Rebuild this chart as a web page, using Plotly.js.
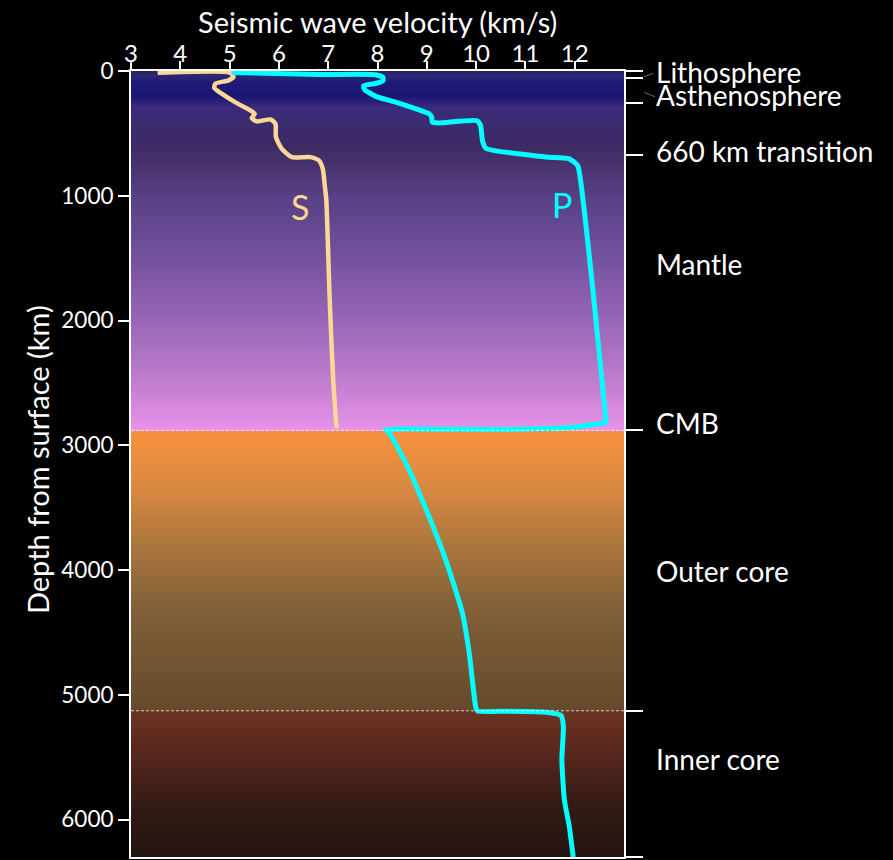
<!DOCTYPE html>
<html>
<head>
<meta charset="utf-8">
<script src="https://cdn.plot.ly/plotly-3.0.1.min.js"></script>
<style>
  html, body { margin: 0; padding: 0; background: #000; }
  #chart { width: 893px; height: 860px; }
</style>
</head>
<body>
<div id="chart"></div>
<script>
// ---------------- data ----------------
const xTicks = [3, 4, 5, 6, 7, 8, 9, 10, 11, 12];
const yTicks = [0, 1000, 2000, 3000, 4000, 5000, 6000];

// S-wave velocity profile (km/s) vs depth (km)
const sDepth = [14, 14, 48, 75, 102, 137, 182, 249, 316, 343, 377, 404, 388, 423, 530, 624, 690, 690, 717, 784, 918, 1025, 1830, 2470, 2865];
const sVel   = [3.54, 5.01, 5.08, 4.98, 4.71, 4.69, 4.84, 5.11, 5.42, 5.51, 5.45, 5.55, 5.83, 5.93, 5.94, 6.06, 6.26, 6.64, 6.81, 6.89, 6.93, 6.96, 7.03, 7.10, 7.17];

// P-wave velocity profile (km/s) vs depth (km)
const pDepth = [12, 28, 30, 50, 78, 100, 118, 150, 205, 250, 316, 340, 370, 410, 416, 398, 437, 560, 620, 640, 690, 704, 758, 1105, 1721, 2389, 2790, 2817, 2835, 2860, 2874, 2876, 2897, 3138, 3567, 3914, 4342, 4663, 5092, 5130, 5132, 5140, 5165, 5252, 5520, 5841, 6055, 6300];
const pVel   = [5.04, 6.81, 7.96, 8.11, 8.11, 7.96, 7.72, 7.74, 7.98, 8.37, 8.87, 9.04, 9.10, 9.11, 9.25, 10.02, 10.09, 10.13, 10.20, 10.40, 11.41, 11.89, 12.06, 12.19, 12.36, 12.53, 12.63, 12.63, 12.36, 11.82, 10.47, 8.16, 8.23, 8.57, 9.04, 9.38, 9.72, 9.86, 9.99, 10.03, 10.50, 11.42, 11.72, 11.77, 11.74, 11.79, 11.89, 11.97];

// Layer boundaries (km)
const cmbDepth = 2880;
const icbDepth = 5128;
const maxDepth = 6300;

// Right-hand layer markers and labels
const markerDepths = [0, 60, 260, 670, cmbDepth, icbDepth, maxDepth];
const layerLabels = ['Lithosphere', 'Asthenosphere', '660 km transition', 'Mantle', 'CMB', 'Outer core', 'Inner core'];
const layerLabelDepth = [5, 195, 640, 1550, 2825, 4010, 5515];

// Background colour stops (depth km -> colour)
const bgDepth = [0, 30, 90, 200, 290, 420, 600, 1000, 1500, 2000, 2500, cmbDepth, cmbDepth + 0.01, 3300, 3800, 4300, icbDepth, icbDepth + 0.01, 5500, 5900, maxDepth];
const bgColor = ['#2a2350', '#2c2872', '#211b78', '#1a1574', '#3a2b7c', '#3b2b70', '#3e2a62', '#574083', '#7352a0', '#9866b6', '#c27ece', '#e892e9', '#f7913e', '#dc8a42', '#ab763c', '#82603a', '#644a2b', '#6c3324', '#55261d', '#321a14', '#231510'];

// ---------------- build ----------------
const FONT = 'Lato, "Open Sans", sans-serif';

// background gradient as a one-column heatmap
const bgY = [];
for (let d = 0; d <= maxDepth; d += 5) bgY.push(d);
const bgZ = bgY.map(d => [d, d]);
const colorscale = bgDepth.map((d, i) => [d / maxDepth, bgColor[i]]);

const traces = [
  {
    type: 'heatmap', x: [3, 13], y: bgY, z: bgZ,
    zmin: 0, zmax: maxDepth, colorscale: colorscale,
    showscale: false, hoverinfo: 'skip'
  },
  {
    type: 'scatter', mode: 'lines', x: sVel, y: sDepth, name: 'S',
    line: { color: '#fdd796', width: 4.5, shape: 'spline', smoothing: 0.6 },
    hoverinfo: 'skip', showlegend: false
  },
  {
    type: 'scatter', mode: 'lines', x: pVel, y: pDepth, name: 'P',
    line: { color: '#00ffff', width: 5, shape: 'spline', smoothing: 0.5 },
    hoverinfo: 'skip', showlegend: false
  },
  {
    type: 'scatter', mode: 'lines', x: [null], y: [null], yaxis: 'y2',
    hoverinfo: 'skip', showlegend: false
  }
];

const shapes = [cmbDepth, icbDepth].map(d => ({
  type: 'line', xref: 'paper', yref: 'y', x0: 0, x1: 1, y0: d, y1: d,
  line: { color: 'rgba(255,255,255,0.75)', width: 1, dash: '3px,2px' }, layer: 'above'
}));
// leader lines for the two top labels
shapes.push({ type: 'line', xref: 'paper', yref: 'y', x0: 1.041, x1: 1.059, y0: 46, y1: 19, line: { color: '#8a6a3a', width: 1 } });
shapes.push({ type: 'line', xref: 'paper', yref: 'y', x0: 1.041, x1: 1.063, y0: 172, y1: 206, line: { color: '#8a6a3a', width: 1 } });

const annotations = layerLabels.map((t, i) => ({
  text: t, xref: 'paper', yref: 'y', x: 1.061, y: layerLabelDepth[i],
  xanchor: 'left', yanchor: 'middle', showarrow: false,
  font: { family: FONT, size: 28, color: '#ffffff' }
}));
annotations.push({
  text: 'S', xref: 'x', yref: 'y', x: 6.42, y: 1089, showarrow: false,
  xanchor: 'center', yanchor: 'middle',
  font: { family: FONT, size: 34, color: '#fdd796' }
});
annotations.push({
  text: 'P', xref: 'x', yref: 'y', x: 11.75, y: 1070, showarrow: false,
  xanchor: 'center', yanchor: 'middle',
  font: { family: FONT, size: 34, color: '#00ffff' }
});
annotations.push({
  text: 'Depth from surface (km)', xref: 'paper', yref: 'y', x: -0.191, y: 3112,
  textangle: -90, showarrow: false, xanchor: 'center', yanchor: 'middle',
  font: { family: FONT, size: 29, color: '#ffffff' }
});
annotations.push({
  text: 'Seismic wave velocity (km/s)', xref: 'paper', yref: 'paper', x: 0.499, y: 1,
  yshift: 50, showarrow: false, xanchor: 'center', yanchor: 'middle',
  font: { family: FONT, size: 29, color: '#ffffff' }
});

const layout = {
  width: 893, height: 860,
  paper_bgcolor: '#000000', plot_bgcolor: '#000000',
  margin: { l: 131, r: 269, t: 71, b: 3, pad: 0 },
  showlegend: false,
  font: { family: FONT, color: '#ffffff' },
  xaxis: {
    side: 'top', range: [3, 13], tickvals: xTicks, ticktext: xTicks.map(String),
    ticks: 'outside', ticklen: 8, tickwidth: 2, tickcolor: '#ffffff',
    ticklabelstandoff: -11,
    showline: true, linecolor: '#ffffff', linewidth: 2, mirror: true,
    showgrid: false, zeroline: false,
    tickfont: { family: FONT, size: 24, color: '#ffffff' }
  },
  yaxis: {
    range: [maxDepth, 0], tickvals: yTicks, ticktext: yTicks.map(String),
    ticks: 'outside', ticklen: 11, tickwidth: 2, tickcolor: '#ffffff',
    showline: true, linecolor: '#ffffff', linewidth: 2, mirror: true,
    showgrid: false, zeroline: false,
    tickfont: { family: FONT, size: 22.5, color: '#ffffff' }
  },
  yaxis2: {
    overlaying: 'y', side: 'right', range: [maxDepth, 0],
    tickvals: markerDepths, showticklabels: false,
    ticks: 'outside', ticklen: 18, tickwidth: 2, tickcolor: '#ffffff',
    showline: false, showgrid: false, zeroline: false
  },
  shapes: shapes,
  annotations: annotations
};

Plotly.newPlot('chart', traces, layout, { displayModeBar: false, staticPlot: true });
</script>
</body>
</html>
